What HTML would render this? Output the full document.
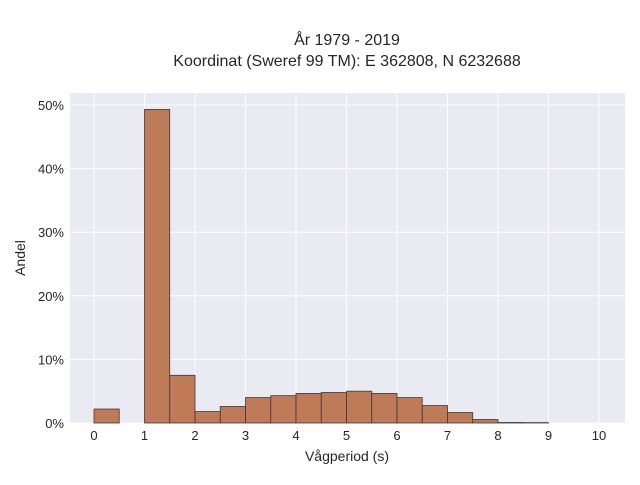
<!DOCTYPE html>
<html><head><meta charset="utf-8"><style>
body{margin:0;background:#fff;font-family:"Liberation Sans",sans-serif;}
svg text{font-family:"Liberation Sans",sans-serif;fill:#262626;}
</style></head><body>
<svg id="chart" width="640" height="480">
<text x="347" y="45" text-anchor="middle" font-size="16">År 1979 - 2019</text>
<text x="347" y="66" text-anchor="middle" font-size="16">Koordinat (Sweref 99 TM): E 362808, N 6232688</text>
<rect x="70" y="93" width="555" height="330" fill="#eaeaf2"/>
<g id="grid"></g><g id="bars"></g><g id="ticks"></g>
<text x="0" y="0" transform="translate(25,258) rotate(-90)" text-anchor="middle" font-size="14">Andel</text>
<text x="347" y="461" text-anchor="middle" font-size="14">Vågperiod (s)</text>
</svg>
<script>
const binStarts=[0,0.5,1,1.5,2,2.5,3,3.5,4,4.5,5,5.5,6,6.5,7,7.5,8,8.5];
const shares=[2.2,0,49.3,7.5,1.8,2.6,4.0,4.3,4.65,4.8,5.0,4.65,4.0,2.75,1.65,0.55,0.08,0.06];
const xTicks=[0,1,2,3,4,5,6,7,8,9,10];
const yTicks=[0,10,20,30,40,50];
const binWidth=0.5;
const NS="http://www.w3.org/2000/svg";
const xs=v=>94+v*50.5, ys=v=>423-v*6.36;
const grid=document.getElementById('grid'),bars=document.getElementById('bars'),ticks=document.getElementById('ticks');
function mk(tag,attrs,parent){const e=document.createElementNS(NS,tag);for(const k in attrs)e.setAttribute(k,attrs[k]);parent.appendChild(e);return e;}
xTicks.forEach(t=>{
 const l=mk('line',{x1:xs(t),x2:xs(t),y1:93,y2:423,stroke:'#fff','stroke-width':1},grid);
 
 
 const tx=mk('text',{x:xs(t),y:440,'text-anchor':'middle','font-size':13},ticks);
 tx.textContent=t;
 
 
});
yTicks.forEach(t=>{
 const l=mk('line',{x1:70,x2:625,y1:ys(t),y2:ys(t),stroke:'#fff','stroke-width':1},grid);
 
 
 const tx=mk('text',{x:64,y:ys(t)+5,'text-anchor':'end','font-size':13},ticks);
 tx.textContent=t+'%';
 
 
});
binStarts.forEach((b,i)=>{
 if(shares[i]<=0)return;
 const r=mk('rect',{x:xs(b),y:ys(shares[i]),width:xs(b+binWidth)-xs(b),height:ys(0)-ys(shares[i]),fill:'#bf7b58',stroke:'#3a3a3a','stroke-width':0.8},bars);
 
 
});
</script>
</body></html>
